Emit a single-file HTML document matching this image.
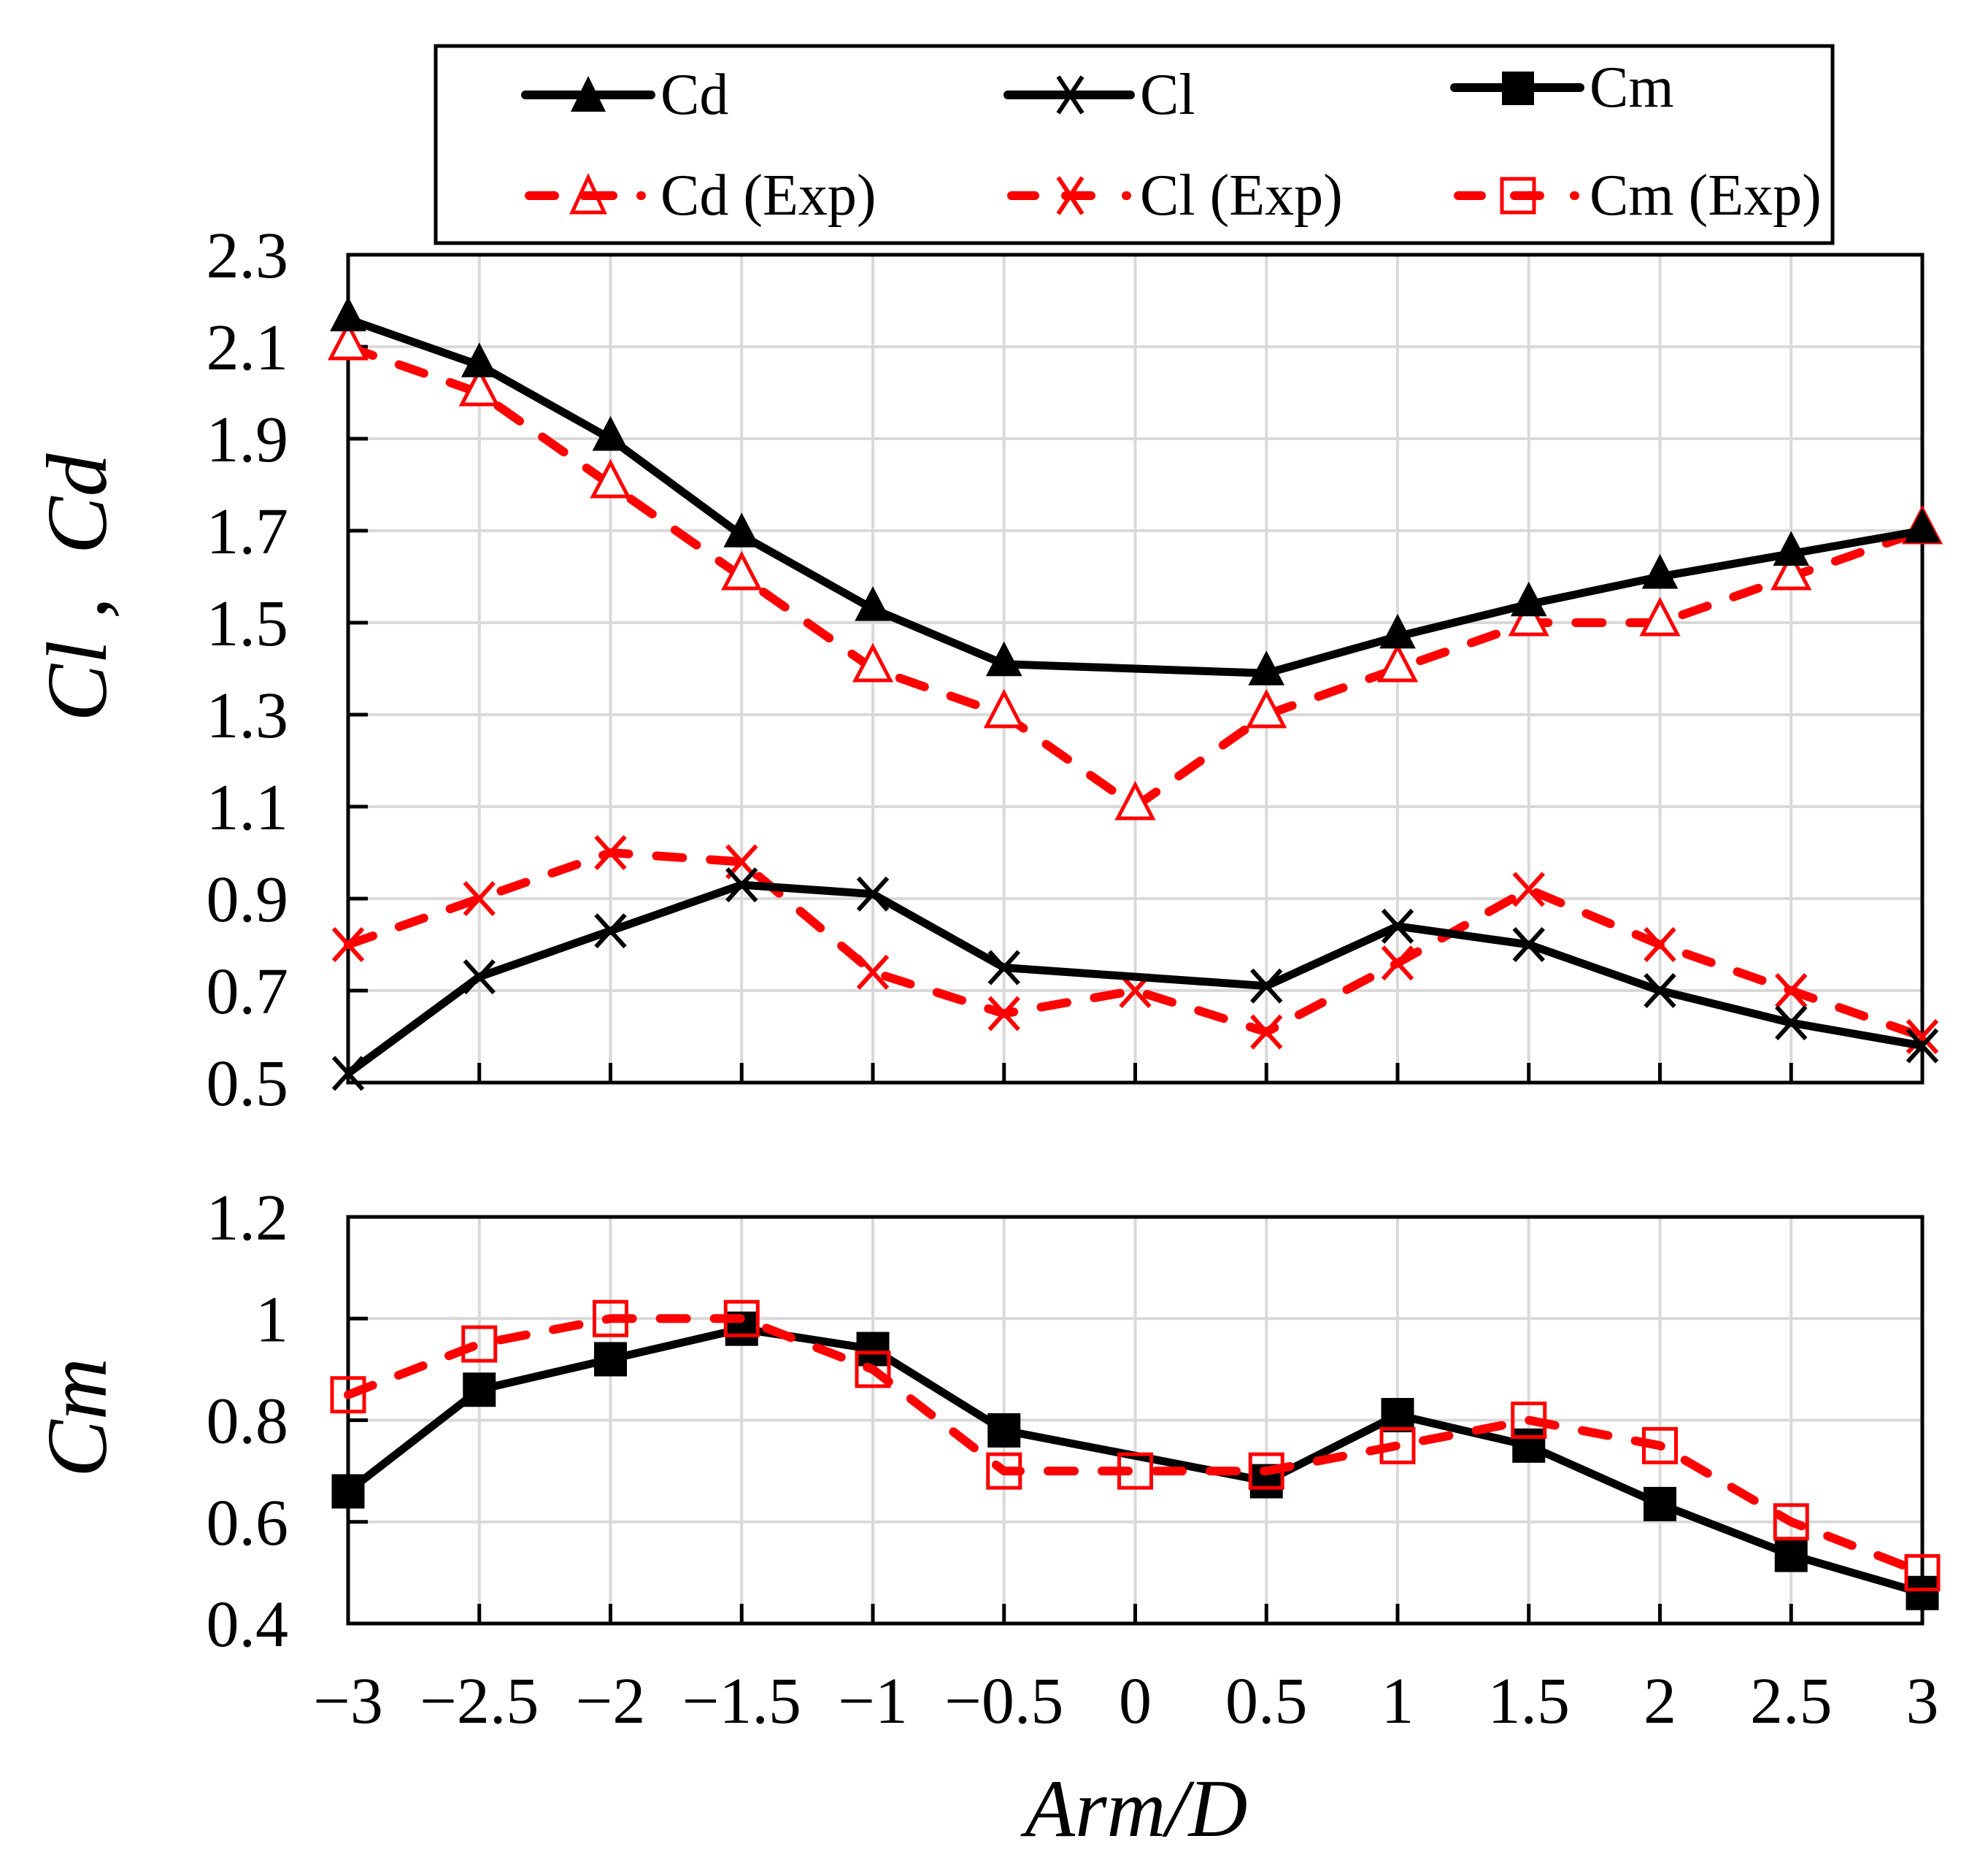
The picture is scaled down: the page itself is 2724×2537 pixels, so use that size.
<!DOCTYPE html>
<html><head><meta charset="utf-8"><style>
html,body{margin:0;padding:0;background:#fff;}
svg{display:block;font-family:"Liberation Serif",serif;}
</style></head><body>
<svg id="chart" width="2724" height="2537" viewBox="0 0 2724 2537" xmlns="http://www.w3.org/2000/svg">
<rect width="2724" height="2537" fill="#fff"/>
<g id="grid"></g><g id="axes"></g><g id="series"></g>
<g>
<rect x="597" y="63" width="1914" height="270" fill="#fff" stroke="#000" stroke-width="5"/>
<g>
<line x1="720" y1="130" x2="892" y2="130" stroke="#000" stroke-width="12" stroke-linecap="round"/>
<polygon points="806,104 830,153 782,153" fill="#000"/>
<text x="905" y="156" font-size="80">Cd</text></g>
<g>
<line x1="1381" y1="130" x2="1549" y2="130" stroke="#000" stroke-width="12" stroke-linecap="round"/>
<path d="M1450,105 L1483,155 M1483,105 L1450,155" stroke="#000" stroke-width="6"/>
<text x="1562" y="156" font-size="80">Cl</text></g>
<g>
<line x1="1993" y1="120" x2="2165" y2="120" stroke="#000" stroke-width="12" stroke-linecap="round"/>
<rect x="2058" y="98" width="44" height="46" fill="#000"/>
<text x="2178" y="146" font-size="80">Cm</text></g>
<g>
<path d="M725,268 L760,268 M800,268 L840,268 M878,268 L879,268" stroke="#f00" stroke-width="12" stroke-linecap="round"/>
<polygon points="806,243 828,291 784,291" fill="none" stroke="#f00" stroke-width="5"/>
<text x="905" y="294" font-size="80">Cd (Exp)</text></g>
<g>
<path d="M1386,268 L1418,268 M1460,268 L1495,268 M1543,268 L1544,268" stroke="#f00" stroke-width="12" stroke-linecap="round"/>
<path d="M1450,243 L1483,293 M1483,243 L1450,293" stroke="#f00" stroke-width="6"/>
<text x="1562" y="294" font-size="80">Cl (Exp)</text></g>
<g>
<path d="M1998,268 L2030,268 M2075,268 L2110,268 M2157,268 L2158,268" stroke="#f00" stroke-width="12" stroke-linecap="round"/>
<rect x="2058" y="245" width="44" height="46" fill="none" stroke="#f00" stroke-width="5"/>
<text x="2178" y="294" font-size="80">Cm (Exp)</text></g>
</g>
<text transform="translate(145,805) rotate(-90)" text-anchor="middle" font-size="118" font-style="italic" xml:space="preserve">Cl ,  Cd</text>
<text transform="translate(145,1942) rotate(-90)" text-anchor="middle" font-size="118" font-style="italic">Cm</text>
<text x="1557" y="2515" text-anchor="middle" font-size="112" font-style="italic">Arm/D</text>
</svg>
<script>
const xCats=[-3,-2.5,-2,-1.5,-1,-0.5,0,0.5,1,1.5,2,2.5,3];
const xTickLabels=["\u22123","\u22122.5","\u22122","\u22121.5","\u22121","\u22120.5","0","0.5","1","1.5","2","2.5","3"];
const topTicks=[0.5,0.7,0.9,1.1,1.3,1.5,1.7,1.9,2.1,2.3];
const topTickLabels=["0.5","0.7","0.9","1.1","1.3","1.5","1.7","1.9","2.1","2.3"];
const botTicks=[0.4,0.6,0.8,1.0,1.2];
const botTickLabels=["0.4","0.6","0.8","1","1.2"];
const cd=[2.16,2.06,1.90,1.69,1.53,1.41,null,1.39,1.47,1.54,1.60,1.65,1.70];
const cl=[0.52,0.73,0.83,0.93,0.91,0.75,null,0.71,0.84,0.80,0.70,0.63,0.58];
const cm=[0.66,0.86,0.92,0.98,0.94,0.78,null,0.68,0.81,0.75,0.635,0.535,0.46];
const cdExp=[2.10,2.00,1.80,1.60,1.40,1.30,1.10,1.30,1.40,1.50,1.50,1.60,1.70];
const clExp=[0.80,0.90,1.00,0.98,0.74,0.65,0.70,0.61,0.76,0.92,0.80,0.70,0.60];
const cmExp=[0.85,0.95,1.00,1.00,0.90,0.70,0.70,0.70,0.75,0.80,0.75,0.60,0.50];

const NS="http://www.w3.org/2000/svg";
const X0=477,X1=2634;
const T={top:349,bot:1483,min:0.5,max:2.3};
const B={top:1667,bot:2224,min:0.4,max:1.2};
const xS=v=>X0+(v+3)/6*(X1-X0);
const yS=(p,v)=>p.bot-(v-p.min)/(p.max-p.min)*(p.bot-p.top);
function mk(tag,attrs,parent){const e=document.createElementNS(NS,tag);for(const k in attrs)e.setAttribute(k,attrs[k]);parent.appendChild(e);return e;}
const grid=document.getElementById('grid'),axes=document.getElementById('axes'),ser=document.getElementById('series');

function panel(p,ticks,labels,name){
  ticks.forEach((t,i)=>{
    const y=yS(p,t);
    if(i>0&&i<ticks.length-1){const g=mk('line',{x1:X0,x2:X1,y1:y,y2:y,stroke:'#d9d9d9','stroke-width':4},grid);
      
      
      const tk=mk('line',{x1:X0,x2:X0+27,y1:y,y2:y,stroke:'#000','stroke-width':5},axes);
      
      }
    const tx=mk('text',{x:395,y:y+31,'text-anchor':'end','font-size':90},axes);tx.textContent=labels[i];
    
    
  });
  xCats.forEach((c,i)=>{
    const x=xS(c);
    if(i>0&&i<xCats.length-1){const g=mk('line',{x1:x,x2:x,y1:p.top,y2:p.bot,stroke:'#d9d9d9','stroke-width':4},grid);
      
      
      const tk=mk('line',{x1:x,x2:x,y1:p.bot-27,y2:p.bot,stroke:'#000','stroke-width':5},axes);
      
      }
  });
  const r=mk('rect',{x:X0,y:p.top,width:X1-X0,height:p.bot-p.top,fill:'none',stroke:'#000','stroke-width':5},axes);
  
  
}
panel(T,topTicks,topTickLabels,'top-panel');
panel(B,botTicks,botTickLabels,'bottom-panel');
xCats.forEach((c,i)=>{
  const t=mk('text',{x:xS(c),y:2360,'text-anchor':'middle','font-size':90},axes);t.textContent=xTickLabels[i];
  
  
});

function marker(type,x,y,color,filled,g){
  if(type==='tri'){mk('polygon',{points:`${x},${y-30} ${x+24},${y+16} ${x-24},${y+16}`,fill:filled?color:'#fff',stroke:color,'stroke-width':filled?1:5},g);}
  else if(type==='x'){mk('path',{d:`M${x-20},${y-22} L${x+20},${y+22} M${x+20},${y-22} L${x-20},${y+22}`,stroke:color,'stroke-width':6},g);}
  else {mk('rect',{x:x-22,y:y-23,width:44,height:46,fill:filled?color:'none',stroke:color,'stroke-width':filled?1:5},g);}
}
function series(vals,p,type,color,dashed,name){
  const g=mk('g',{},ser);
  
  
  const pts=[];vals.forEach((v,i)=>{if(v!==null)pts.push([xS(xCats[i]),yS(p,v)]);});
  const attrs={points:pts.map(q=>q.join(',')).join(' '),fill:'none',stroke:color,'stroke-width':dashed?12:11,'stroke-linejoin':'round'};
  if(dashed){attrs['stroke-dasharray']='36,38';attrs['stroke-linecap']='round';}
  mk('polyline',attrs,g);
  pts.forEach(q=>marker(type,q[0],q[1],color,!dashed,g));
}
series(cdExp,T,'tri','#f00',true,'series-cd-exp');
series(clExp,T,'x','#f00',true,'series-cl-exp');
series(cd,T,'tri','#000',false,'series-cd');
series(cl,T,'x','#000',false,'series-cl');
series(cm,B,'sq','#000',false,'series-cm');
series(cmExp,B,'sq','#f00',true,'series-cm-exp');
</script>
</body></html>
